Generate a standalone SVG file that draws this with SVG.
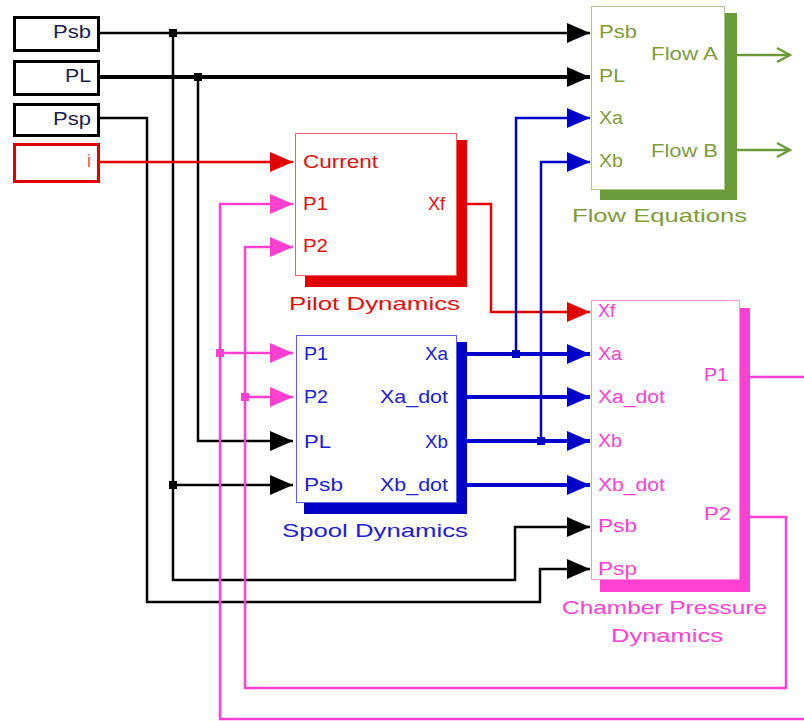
<svg xmlns="http://www.w3.org/2000/svg" width="804" height="721" viewBox="0 0 804 721">
<style>
text{font-family:"Liberation Sans",Arial,sans-serif;font-size:18px}
.lab{font-size:19px}
.c{fill:none;stroke-linejoin:miter}
.k{stroke:#000;stroke-width:2.5}
.kt{stroke:#000;stroke-width:4}
.r{stroke:#e00000;stroke-width:2.5}
.p{stroke:#ff40d0;stroke-width:2.5}
.b{stroke:#0000c8;stroke-width:2.5}
.bt{stroke:#0000c8;stroke-width:4}
.g{stroke:#6b9a3a;stroke-width:2.5}
.tin{fill:#1c2050}
.tg{fill:#7f9b3a}
.tr{fill:#e01010}
.tb{fill:#2020d0}
.tp{fill:#ff40d0}
</style>
<defs>
<marker id="ak" markerUnits="userSpaceOnUse" markerWidth="23" markerHeight="20" refX="23" refY="10" orient="auto"><path d="M0,0 L23,10 L0,20 z" fill="#000"/></marker>
<marker id="ar" markerUnits="userSpaceOnUse" markerWidth="23" markerHeight="20" refX="23" refY="10" orient="auto"><path d="M0,0 L23,10 L0,20 z" fill="#e00000"/></marker>
<marker id="ap" markerUnits="userSpaceOnUse" markerWidth="23" markerHeight="20" refX="23" refY="10" orient="auto"><path d="M0,0 L23,10 L0,20 z" fill="#ff40d0"/></marker>
<marker id="ab" markerUnits="userSpaceOnUse" markerWidth="23" markerHeight="20" refX="23" refY="10" orient="auto"><path d="M0,0 L23,10 L0,20 z" fill="#0000c8"/></marker>
<marker id="ag" markerUnits="userSpaceOnUse" markerWidth="16" markerHeight="18" refX="14" refY="9" orient="auto"><path d="M1,2 L14,9 L1,16" fill="none" stroke="#6b9a3a" stroke-width="2.5"/></marker>
</defs>

<g id="connectors">
  <path class="c k" d="M99,33 H590" marker-end="url(#ak)"/>
  <path class="c k" d="M173,33 V580 H515 V527 H590" marker-end="url(#ak)"/>
  <path class="c k" d="M173,485 H293" marker-end="url(#ak)"/>
  <path class="c kt" d="M99,77 H590" marker-end="url(#ak)"/>
  <path class="c k" d="M198,77 V441 H293" marker-end="url(#ak)"/>
  <path class="c k" d="M99,118 H147 V602 H540 V569 H590" marker-end="url(#ak)"/>
  <rect x="169" y="29" width="8" height="8" fill="#000"/>
  <rect x="194" y="73" width="8" height="8" fill="#000"/>
  <rect x="169" y="481" width="8" height="8" fill="#000"/>
  <path class="c r" d="M99,162 H293" marker-end="url(#ar)"/>
  <path class="c r" d="M467,204 H491 V312 H590" marker-end="url(#ar)"/>
  <path class="c p" d="M750,377 H808 V719 H220 V204 H293" marker-end="url(#ap)"/>
  <path class="c p" d="M220,353 H293" marker-end="url(#ap)"/>
  <path class="c p" d="M750,517 H786 V688 H245 V247 H293" marker-end="url(#ap)"/>
  <path class="c p" d="M245,397 H293" marker-end="url(#ap)"/>
  <rect x="216" y="349" width="8" height="8" fill="#ff40d0"/>
  <rect x="241" y="393" width="8" height="8" fill="#ff40d0"/>
  <path class="c bt" d="M467,354 H590" marker-end="url(#ab)"/>
  <path class="c b" d="M516,354 V118 H590" marker-end="url(#ab)"/>
  <path class="c bt" d="M467,397 H590" marker-end="url(#ab)"/>
  <path class="c bt" d="M467,441 H590" marker-end="url(#ab)"/>
  <path class="c b" d="M541,441 V162 H590" marker-end="url(#ab)"/>
  <path class="c bt" d="M467,485 H590" marker-end="url(#ab)"/>
  <rect x="512" y="350" width="8" height="8" fill="#0000c8"/>
  <rect x="537" y="437" width="8" height="8" fill="#0000c8"/>
  <path class="c g" d="M737,55 H790" marker-end="url(#ag)"/>
  <path class="c g" d="M737,150 H790" marker-end="url(#ag)"/>
</g>

<g id="in-Psb">
  <rect x="14.5" y="17.5" width="84" height="33" fill="#fff" stroke="#000" stroke-width="3"/>
  <text class="tin" x="53" y="38" textLength="38" lengthAdjust="spacingAndGlyphs">Psb</text>
</g>
<g id="in-PL">
  <rect x="14.5" y="61.5" width="84" height="33" fill="#fff" stroke="#000" stroke-width="3"/>
  <text class="tin" x="65" y="82" textLength="26" lengthAdjust="spacingAndGlyphs">PL</text>
</g>
<g id="in-Psp">
  <rect x="14.5" y="104.5" width="84" height="31" fill="#fff" stroke="#000" stroke-width="3"/>
  <text class="tin" x="53" y="125" textLength="38" lengthAdjust="spacingAndGlyphs">Psp</text>
</g>
<g id="in-i">
  <rect x="14.5" y="144.5" width="84" height="37" fill="#fff" stroke="#e00000" stroke-width="3"/>
  <text x="87" y="167" fill="#f05050">i</text>
</g>

<g id="flow-equations">
  <rect x="600" y="13" width="137" height="187" fill="#6b9a3a"/>
  <rect x="591.5" y="6.5" width="133" height="183" fill="#fff" stroke="#a8c888" stroke-width="1"/>
  <text class="tg" x="599" y="38" textLength="38" lengthAdjust="spacingAndGlyphs">Psb</text>
  <text class="tg" x="599" y="82" textLength="26" lengthAdjust="spacingAndGlyphs">PL</text>
  <text class="tg" x="599" y="124" textLength="24" lengthAdjust="spacingAndGlyphs">Xa</text>
  <text class="tg" x="599" y="167" textLength="24" lengthAdjust="spacingAndGlyphs">Xb</text>
  <text class="tg" x="651" y="60" textLength="67" lengthAdjust="spacingAndGlyphs">Flow A</text>
  <text class="tg" x="651" y="157" textLength="67" lengthAdjust="spacingAndGlyphs">Flow B</text>
  <text class="tg lab" x="572" y="222" textLength="175" lengthAdjust="spacingAndGlyphs">Flow Equations</text>
</g>

<g id="pilot-dynamics">
  <rect x="305" y="140" width="162" height="147" fill="#e00000"/>
  <rect x="295.5" y="133.5" width="161" height="142" fill="#fff" stroke="#f06060" stroke-width="1"/>
  <text class="tr" x="303" y="168" textLength="75" lengthAdjust="spacingAndGlyphs">Current</text>
  <text class="tr" x="303" y="210" textLength="25" lengthAdjust="spacingAndGlyphs">P1</text>
  <text class="tr" x="303" y="252" textLength="25" lengthAdjust="spacingAndGlyphs">P2</text>
  <text class="tr" x="428" y="210" textLength="17" lengthAdjust="spacingAndGlyphs">Xf</text>
  <text class="tr lab" x="289" y="310" textLength="171" lengthAdjust="spacingAndGlyphs">Pilot Dynamics</text>
</g>

<g id="spool-dynamics">
  <rect x="304" y="342" width="163" height="172" fill="#0000c8"/>
  <rect x="296.5" y="335.5" width="160" height="167" fill="#fff" stroke="#6060e0" stroke-width="1"/>
  <text class="tb" x="304" y="360" textLength="24" lengthAdjust="spacingAndGlyphs">P1</text>
  <text class="tb" x="304" y="403" textLength="24" lengthAdjust="spacingAndGlyphs">P2</text>
  <text class="tb" x="304" y="448" textLength="27" lengthAdjust="spacingAndGlyphs">PL</text>
  <text class="tb" x="304" y="491" textLength="39" lengthAdjust="spacingAndGlyphs">Psb</text>
  <text class="tb" x="425" y="360" textLength="23" lengthAdjust="spacingAndGlyphs">Xa</text>
  <text class="tb" x="380" y="403" textLength="68" lengthAdjust="spacingAndGlyphs">Xa_dot</text>
  <text class="tb" x="425" y="448" textLength="23" lengthAdjust="spacingAndGlyphs">Xb</text>
  <text class="tb" x="380" y="491" textLength="68" lengthAdjust="spacingAndGlyphs">Xb_dot</text>
  <text class="tb lab" x="282" y="537" textLength="186" lengthAdjust="spacingAndGlyphs">Spool Dynamics</text>
</g>

<g id="chamber-pressure-dynamics">
  <rect x="600" y="308" width="150" height="284" fill="#ff40d0"/>
  <rect x="591.5" y="300.5" width="148" height="279" fill="#fff" stroke="#ff90e0" stroke-width="1"/>
  <text class="tp" x="598" y="317" textLength="17" lengthAdjust="spacingAndGlyphs">Xf</text>
  <text class="tp" x="598" y="360" textLength="24" lengthAdjust="spacingAndGlyphs">Xa</text>
  <text class="tp" x="598" y="403" textLength="67" lengthAdjust="spacingAndGlyphs">Xa_dot</text>
  <text class="tp" x="598" y="447" textLength="24" lengthAdjust="spacingAndGlyphs">Xb</text>
  <text class="tp" x="598" y="491" textLength="67" lengthAdjust="spacingAndGlyphs">Xb_dot</text>
  <text class="tp" x="598" y="532" textLength="39" lengthAdjust="spacingAndGlyphs">Psb</text>
  <text class="tp" x="598" y="575" textLength="39" lengthAdjust="spacingAndGlyphs">Psp</text>
  <text class="tp" x="704" y="381" textLength="24" lengthAdjust="spacingAndGlyphs">P1</text>
  <text class="tp" x="704" y="520" textLength="27" lengthAdjust="spacingAndGlyphs">P2</text>
  <text class="tp lab" x="562" y="614" textLength="205" lengthAdjust="spacingAndGlyphs">Chamber Pressure</text>
  <text class="tp lab" x="611" y="642" textLength="112" lengthAdjust="spacingAndGlyphs">Dynamics</text>
</g>
</svg>
